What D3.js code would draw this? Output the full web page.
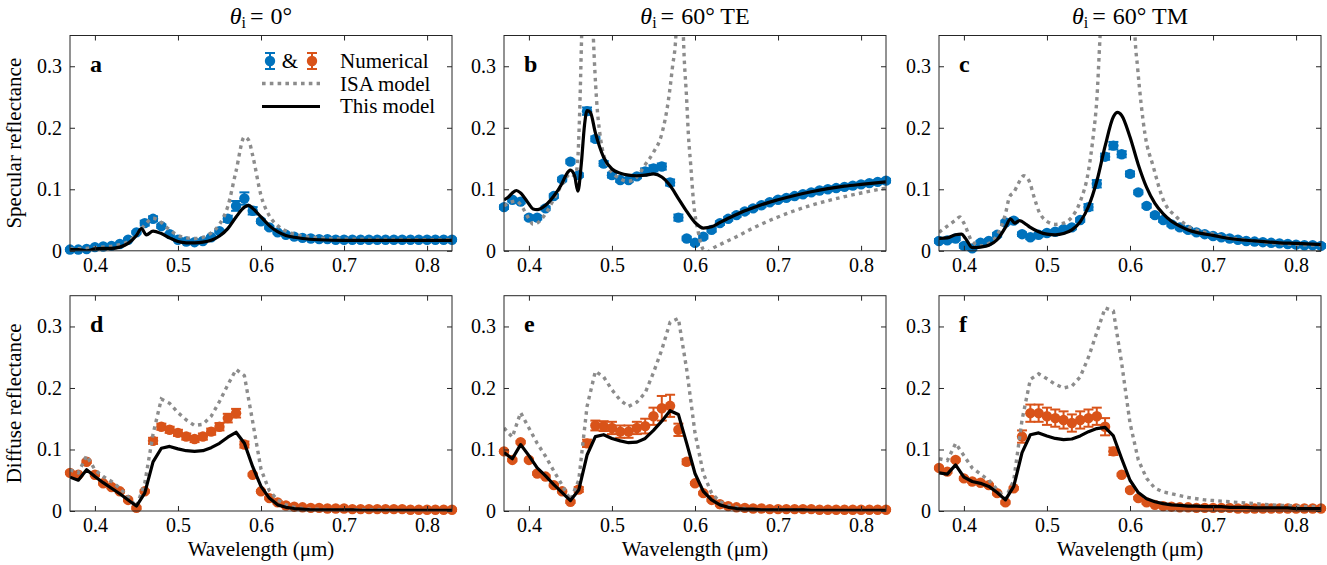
<!DOCTYPE html>
<html>
<head>
<meta charset="utf-8">
<script src="https://cdn.jsdelivr.net/npm/d3@7"></script>
<style>
  html, body { margin: 0; padding: 0; background: #fff; }
  svg { display: block; }
  svg text { font-family: 'Liberation Serif', 'Times New Roman', serif !important; fill: #000; }
</style>
</head>
<body>
<svg id="fig" width="1327" height="565"></svg>
<script>
// ── Data ────────────────────────────────────────────────────────────────────
// wavelength grid of the numerical points (µm)
const wl = [0.37,0.38,0.39,0.40,0.41,0.42,0.43,0.44,0.45,0.46,0.47,0.48,0.49,0.50,0.51,0.52,
            0.53,0.54,0.55,0.56,0.57,0.58,0.59,0.60,0.61,0.62,0.63,0.64,0.65,0.66,0.67,0.68,
            0.69,0.70,0.71,0.72,0.73,0.74,0.75,0.76,0.77,0.78,0.79,0.80,0.81,0.82,0.83];

// numerical specular reflectance (blue) + error
const numA = [.002,.002,.003,.006,.007,.008,.011,.018,.030,.045,.052,.040,.027,.018,.015,.014,
              .016,.022,.032,.052,.073,.085,.065,.048,.038,.030,.026,.023,.021,.020,.019,.019,
              .018,.018,.018,.018,.018,.018,.018,.018,.018,.018,.018,.018,.018,.018,.018];
const errA = [.002,.002,.002,.002,.002,.002,.002,.002,.002,.004,.004,.003,.002,.002,.002,.002,
              .002,.002,.002,.005,.008,.010,.006,.003,.002,.002,.002,.002,.002,.002,.002,.002,
              .002,.002,.002,.002,.002,.002,.002,.002,.002,.002,.002,.002,.002,.002,.002];
const numB = [.071,.083,.080,.054,.054,.069,.089,.116,.145,.123,.227,.182,.142,.123,.115,.115,
              .121,.129,.134,.137,.111,.054,.020,.013,.023,.034,.045,.052,.058,.064,.069,.074,
              .079,.083,.086,.089,.092,.095,.098,.100,.102,.104,.106,.108,.110,.112,.114];
const errB = [.003,.003,.003,.003,.003,.003,.003,.003,.003,.003,.006,.004,.004,.004,.003,.003,
              .003,.005,.005,.005,.005,.005,.003,.003,.003,.003,.003,.003,.003,.003,.003,.003,
              .003,.003,.003,.003,.003,.003,.003,.003,.003,.003,.003,.003,.003,.003,.003];
const numC = [.016,.017,.020,.008,.004,.013,.016,.026,.046,.049,.027,.022,.026,.029,.031,.035,
              .038,.050,.071,.109,.153,.171,.157,.125,.095,.073,.058,.050,.043,.038,.034,.030,
              .027,.024,.022,.020,.018,.016,.015,.014,.013,.012,.011,.010,.009,.009,.008];
const errC = [.003,.003,.003,.003,.003,.003,.003,.003,.003,.003,.003,.003,.003,.003,.003,.003,
              .003,.003,.005,.006,.005,.006,.005,.004,.003,.003,.003,.003,.003,.003,.003,.003,
              .003,.003,.003,.003,.003,.003,.003,.003,.003,.003,.003,.003,.003,.003,.003];

// numerical diffuse reflectance (orange) + error
const numD = [.062,.059,.080,.059,.045,.039,.032,.018,.005,.032,.114,.137,.132,.127,.121,.117,
              .121,.129,.137,.151,.159,.108,.059,.032,.021,.014,.009,.007,.006,.005,.005,.004,
              .004,.004,.003,.003,.003,.003,.003,.003,.003,.002,.002,.002,.002,.002,.002];
const errD = [.002,.002,.002,.002,.002,.002,.002,.002,.002,.002,.005,.005,.005,.005,.005,.005,
              .005,.005,.006,.007,.007,.005,.002,.002,.002,.002,.002,.002,.002,.002,.002,.002,
              .002,.002,.002,.002,.002,.002,.002,.002,.002,.002,.002,.002,.002,.002,.002];
const numE = [.097,.083,.112,.083,.061,.056,.042,.032,.015,.035,.110,.139,.138,.135,.129,.129,
              .135,.138,.154,.167,.171,.132,.080,.045,.029,.018,.011,.008,.006,.005,.004,.004,
              .003,.003,.003,.003,.003,.003,.002,.002,.002,.002,.002,.002,.002,.002,.002];
const errE = [.002,.002,.002,.002,.002,.002,.002,.002,.002,.004,.006,.008,.008,.010,.010,.010,
              .010,.012,.014,.020,.018,.010,.004,.002,.002,.002,.002,.002,.002,.002,.002,.002,
              .002,.002,.002,.002,.002,.002,.002,.002,.002,.002,.002,.002,.002,.002,.002];
const numF = [.070,.064,.083,.053,.048,.046,.042,.029,.014,.037,.121,.159,.159,.154,.151,.148,
              .143,.148,.151,.154,.137,.097,.059,.034,.021,.014,.010,.008,.007,.006,.006,.005,
              .005,.005,.005,.005,.004,.004,.004,.004,.004,.004,.004,.004,.004,.004,.004];
const errF = [.002,.002,.002,.002,.002,.002,.002,.002,.002,.002,.010,.014,.014,.014,.014,.014,
              .014,.014,.014,.014,.014,.006,.002,.002,.002,.002,.002,.002,.002,.002,.002,.002,
              .002,.002,.002,.002,.002,.002,.002,.002,.002,.002,.002,.002,.002,.002,.002];

// specular models: [wavelength, reflectance]
const modelA = [[.37,.002],[.38,.002],[.39,.000],[.40,.003],[.41,.004],[.42,.004],[.43,.006],
  [.44,.012],[.45,.025],[.456,.036],[.462,.026],[.47,.032],[.48,.028],[.49,.021],[.50,.015],
  [.51,.013],[.52,.013],[.53,.014],[.54,.017],[.55,.024],[.56,.036],[.57,.055],[.58,.071],
  [.585,.074],[.59,.069],[.60,.055],[.61,.041],[.62,.031],[.63,.025],[.64,.022],[.65,.020],
  [.67,.018],[.70,.017],[.75,.017],[.83,.017]];
const isaA = [[.37,.003],[.40,.005],[.43,.010],[.44,.015],[.45,.026],[.46,.042],[.47,.053],
  [.48,.046],[.49,.034],[.50,.025],[.51,.021],[.52,.020],[.53,.022],[.54,.029],[.55,.043],
  [.56,.072],[.57,.130],[.58,.185],[.585,.180],[.59,.155],[.60,.090],[.61,.057],[.62,.041],
  [.63,.032],[.64,.027],[.66,.022],[.70,.019],[.83,.018]];
const modelB = [[.37,.083],[.375,.087],[.38,.094],[.385,.098],[.39,.094],[.40,.076],[.405,.068],
  [.41,.067],[.42,.074],[.43,.089],[.44,.110],[.445,.124],[.45,.131],[.455,.122],[.459,.097],
  [.463,.140],[.467,.205],[.47,.228],[.474,.225],[.48,.192],[.49,.152],[.50,.133],[.51,.126],
  [.52,.123],[.53,.122],[.54,.123],[.55,.125],[.56,.120],[.57,.106],[.58,.085],[.59,.064],
  [.60,.046],[.61,.037],[.62,.039],[.63,.046],[.64,.053],[.65,.059],[.66,.065],[.67,.070],
  [.68,.075],[.70,.083],[.72,.090],[.74,.096],[.76,.101],[.78,.105],[.80,.108],[.83,.112]];
const isaB = [[.37,.073],[.38,.080],[.385,.081],[.39,.075],[.40,.052],[.405,.043],[.41,.045],
  [.42,.060],[.43,.084],[.44,.108],[.45,.125],[.455,.122],[.458,.135],[.461,.22],[.4635,.35],
  [.47,.70],[.4775,.35],[.4815,.245],[.4855,.19],[.4955,.137],[.51,.117],[.52,.113],[.53,.120],
  [.54,.140],[.55,.160],[.56,.190],[.568,.245],[.573,.30],[.577,.35],[.582,.60],[.586,.35],
  [.59,.245],[.592,.19],[.595,.137],[.598,.083],[.604,.030],[.61,.002],[.615,-.002],[.62,.003],
  [.63,.010],[.65,.023],[.67,.037],[.70,.055],[.74,.074],[.78,.088],[.83,.102]];
const modelC = [[.37,.020],[.38,.021],[.39,.026],[.397,.027],[.402,.020],[.41,.005],[.42,.006],
  [.43,.009],[.44,.018],[.45,.038],[.456,.052],[.461,.045],[.467,.049],[.475,.043],[.48,.038],
  [.49,.031],[.50,.027],[.51,.026],[.52,.028],[.53,.034],[.54,.047],[.55,.072],[.56,.113],
  [.57,.170],[.58,.218],[.585,.225],[.59,.220],[.60,.185],[.61,.140],[.62,.103],[.63,.077],
  [.64,.060],[.65,.048],[.66,.040],[.67,.034],[.68,.030],[.70,.025],[.72,.020],[.75,.016],
  [.78,.013],[.80,.012],[.83,.010]];
const isaC = [[.37,.030],[.38,.040],[.39,.050],[.395,.055],[.40,.045],[.41,.015],[.42,.008],
  [.43,.012],[.44,.025],[.45,.060],[.455,.088],[.46,.095],[.465,.108],[.472,.122],[.478,.115],
  [.485,.085],[.49,.065],[.50,.048],[.51,.043],[.52,.045],[.53,.055],[.54,.080],[.55,.130],
  [.556,.19],[.56,.245],[.564,.35],[.58,.70],[.60,.70],[.606,.35],[.609,.30],[.618,.19],
  [.628,.137],[.64,.083],[.656,.055],[.67,.040],[.70,.027],[.72,.021],[.75,.016],[.78,.012],
  [.83,.009]];

// diffuse models on the wl grid
const modelD = [.055,.050,.067,.056,.046,.037,.028,.018,.008,.029,.080,.102,.105,.101,.098,.097,
                .098,.103,.110,.120,.128,.110,.072,.040,.021,.010,.006,.004,.003,.002,.002,.002,
                .002,.002,.002,.001,.001,.001,.001,.001,.001,.001,.001,.001,.001,.001,.001];
const isaD   = [.067,.062,.090,.067,.056,.048,.037,.023,.007,.045,.125,.182,.175,.160,.148,.139,
                .141,.154,.178,.205,.230,.220,.145,.068,.033,.018,.010,.006,.004,.003,.003,.002,
                .002,.002,.002,.002,.002,.002,.002,.001,.001,.001,.001,.001,.001,.001,.001];
const modelE = [.095,.085,.108,.090,.070,.057,.043,.030,.017,.034,.091,.121,.124,.118,.114,.111,
                .112,.118,.131,.146,.163,.157,.110,.061,.032,.018,.010,.006,.004,.003,.003,.002,
                .002,.002,.002,.002,.002,.001,.001,.001,.001,.001,.001,.001,.001,.001,.001];
const isaE   = [.135,.120,.160,.135,.110,.089,.065,.042,.018,.050,.170,.227,.218,.197,.180,.170,
                .177,.192,.225,.262,.307,.313,.230,.127,.061,.029,.015,.009,.006,.004,.003,.002,
                .002,.002,.002,.002,.002,.001,.001,.001,.001,.001,.001,.001,.001,.001,.001];
const modelF = [.062,.060,.075,.055,.048,.045,.040,.030,.018,.040,.095,.124,.127,.122,.118,.116,
                .117,.122,.129,.134,.136,.122,.085,.050,.030,.020,.015,.012,.010,.009,.008,.008,
                .007,.007,.007,.006,.006,.006,.005,.005,.005,.005,.005,.004,.004,.004,.004];
const isaF   = [.085,.082,.110,.090,.070,.060,.050,.035,.020,.050,.148,.214,.223,.215,.206,.200,
                .203,.218,.250,.290,.330,.325,.240,.143,.083,.053,.037,.031,.028,.025,.022,.020,
                .018,.017,.016,.015,.014,.013,.012,.011,.010,.009,.009,.008,.007,.007,.006];

const titles    = ["0°", "60° TE", "60° TM"];
const letters   = ["a", "b", "c", "d", "e", "f"];
const rowLabels = ["Specular reflectance", "Diffuse reflectance"];
const xTicks    = [0.4, 0.5, 0.6, 0.7, 0.8];
const yTicks    = [0, 0.1, 0.2, 0.3];

// ── Layout / style ──────────────────────────────────────────────────────────
const BLUE = "#0072BD", ORANGE = "#D95319", GREY = "#8c8c8c", AXIS = "#262626";
const W = 382, H = 215.3;
const lefts = [70, 504, 939];
const tops  = [35.5, 295.7];

const onGrid = arr => wl.map((x, i) => [x, arr[i]]);

const panels = [
  { num: numA, err: errA, model: modelA, isa: isaA, color: BLUE,   row: 0, col: 0, smooth: true },
  { num: numB, err: errB, model: modelB, isa: isaB, color: BLUE,   row: 0, col: 1, smooth: true },
  { num: numC, err: errC, model: modelC, isa: isaC, color: BLUE,   row: 0, col: 2, smooth: true },
  { num: numD, err: errD, model: onGrid(modelD), isa: onGrid(isaD), color: ORANGE, row: 1, col: 0, smooth: false },
  { num: numE, err: errE, model: onGrid(modelE), isa: onGrid(isaE), color: ORANGE, row: 1, col: 1, smooth: false },
  { num: numF, err: errF, model: onGrid(modelF), isa: onGrid(isaF), color: ORANGE, row: 1, col: 2, smooth: false },
];

const x = d3.scaleLinear().domain([0.37, 0.83]).range([0, W]);
const y = d3.scaleLinear().domain([0, 0.35]).range([H, 0]);
const yFmt = d => d === 0 ? "0" : d3.format(".1f")(d);

const svg = d3.select("#fig");
svg.append("defs").append("clipPath").attr("id", "plotclip")
  .append("rect").attr("width", W).attr("height", H);

// errorbar glyph: vertical bar, caps, filled circle
function errGlyph(g, cx, cy, lo, hi, color) {
  g.append("line").attr("x1", cx).attr("x2", cx).attr("y1", lo).attr("y2", hi)
    .attr("stroke", color).attr("stroke-width", 2);
  [lo, hi].forEach(function (yy) {
    g.append("line").attr("x1", cx - 5).attr("x2", cx + 5).attr("y1", yy).attr("y2", yy)
      .attr("stroke", color).attr("stroke-width", 2);
  });
  g.append("circle").attr("cx", cx).attr("cy", cy).attr("r", 5.2).attr("fill", color);
}

panels.forEach(function (p, k) {
  const g = svg.append("g").attr("transform", `translate(${lefts[p.col]},${tops[p.row]})`);

  // numerical points with error bars
  const pts = g.append("g");
  wl.forEach(function (w, i) {
    errGlyph(pts, x(w), y(p.num[i]), y(p.num[i] - p.err[i]), y(p.num[i] + p.err[i]), p.color);
  });

  const line = d3.line().x(d => x(d[0])).y(d => y(d[1]))
    .curve(p.smooth ? d3.curveMonotoneX : d3.curveLinear);

  const clipped = g.append("g").attr("clip-path", "url(#plotclip)");
  clipped.append("path").datum(p.isa).attr("d", line)
    .attr("fill", "none").attr("stroke", GREY).attr("stroke-width", 3.4)
    .attr("stroke-dasharray", "3.6,4.2");
  clipped.append("path").datum(p.model).attr("d", line)
    .attr("fill", "none").attr("stroke", "#000").attr("stroke-width", 3.2)
    .attr("stroke-linejoin", "round");

  // box + inward ticks on all sides
  g.append("rect").attr("width", W).attr("height", H)
    .attr("fill", "none").attr("stroke", AXIS).attr("stroke-width", 1);

  const xb = g.append("g").attr("transform", `translate(0,${H})`)
    .call(d3.axisBottom(x).tickValues(xTicks).tickSize(-5).tickPadding(7).tickFormat(d3.format(".1f")));
  const xt = g.append("g")
    .call(d3.axisTop(x).tickValues(xTicks).tickSize(-5).tickFormat(""));
  const yl = g.append("g")
    .call(d3.axisLeft(y).tickValues(yTicks).tickSize(-5).tickPadding(8).tickFormat(yFmt));
  const yr = g.append("g").attr("transform", `translate(${W},0)`)
    .call(d3.axisRight(y).tickValues(yTicks).tickSize(-5).tickFormat(""));
  [xb, xt, yl, yr].forEach(function (a) {
    a.select(".domain").remove();
    a.selectAll(".tick line").attr("stroke", AXIS);
    a.selectAll("text").attr("font-size", 20).attr("fill", "#000");
  });

  // panel letter
  g.append("text").attr("x", 20).attr("y", 36.5)
    .attr("font-size", 24).attr("font-weight", "bold").text(letters[k]);

  if (p.row === 0) {
    const t = g.append("text").attr("x", W / 2).attr("y", 24 - tops[0])
      .attr("text-anchor", "middle").attr("font-size", 24);
    t.append("tspan").attr("font-style", "italic").text("θ");
    t.append("tspan").attr("font-size", 16).attr("dy", 4).text("i");
    t.append("tspan").attr("dy", -4).attr("dx", 4).text("=");
    t.append("tspan").attr("dx", 7).text(titles[p.col]);
  } else {
    g.append("text").attr("x", W / 2).attr("y", 556 - tops[1])
      .attr("text-anchor", "middle").attr("font-size", 21).text("Wavelength (μm)");
  }

  if (p.col === 0) {
    g.append("text")
      .attr("transform", `translate(${21 - lefts[0]},${H / 2}) rotate(-90)`)
      .attr("text-anchor", "middle").attr("font-size", 21).text(rowLabels[p.row]);
  }
});

// ── Legend (panel a) ────────────────────────────────────────────────────────
const lg = svg.append("g");
errGlyph(lg, 270, 61, 69, 53, BLUE);
lg.append("text").attr("x", 290).attr("y", 68).attr("text-anchor", "middle")
  .attr("font-size", 21).text("&");
errGlyph(lg, 312, 61, 69, 53, ORANGE);
lg.append("text").attr("x", 340).attr("y", 68).attr("font-size", 21).text("Numerical");

lg.append("line").attr("x1", 262).attr("x2", 320).attr("y1", 83.5).attr("y2", 83.5)
  .attr("stroke", GREY).attr("stroke-width", 3.4).attr("stroke-dasharray", "3.6,4.2");
lg.append("text").attr("x", 340).attr("y", 91).attr("font-size", 21).text("ISA model");

lg.append("line").attr("x1", 262).attr("x2", 320).attr("y1", 106.5).attr("y2", 106.5)
  .attr("stroke", "#000").attr("stroke-width", 3.2);
lg.append("text").attr("x", 340).attr("y", 113).attr("font-size", 21).text("This model");
</script>
</body>
</html>
